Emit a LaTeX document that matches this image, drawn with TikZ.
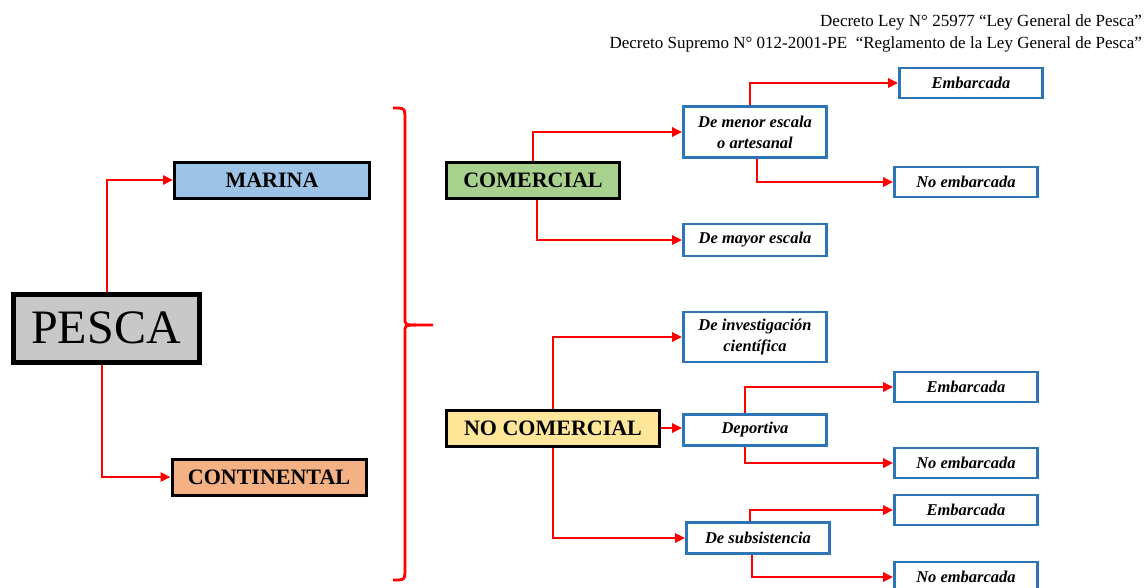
\documentclass[tikz,border=0pt]{standalone}
\usepackage{fontspec}
\setmainfont{Liberation Serif}
\usetikzlibrary{arrows.meta}
\definecolor{pgray}{HTML}{C8C8C8}
\definecolor{pblue}{HTML}{9DC3E6}
\definecolor{porange}{HTML}{F4B183}
\definecolor{pgreen}{HTML}{A9D18E}
\definecolor{pyellow}{HTML}{FFE699}
\definecolor{bborder}{HTML}{2E75B6}
\definecolor{cred}{HTML}{FF0000}
\tikzset{
  mainbox/.style={draw=black, line width=3pt, inner sep=0pt, minimum height=36pt,
    font=\fontsize{22}{24}\selectfont\bfseries},
  subbox/.style={draw=bborder, fill=white, line width=2.6pt, inner sep=0pt, minimum width=143pt,
    align=center, font=\fontsize{16.5}{21}\selectfont\bfseries\itshape},
  conn/.style={draw=cred, line width=2.8pt, -{Triangle[length=10pt,width=9pt]}},
}
\begin{document}
\begin{tikzpicture}[x=1pt,y=-1pt]
\useasboundingbox (0,0) rectangle (1145,587);
% header
\node[anchor=base east, inner sep=0pt, font=\fontsize{17}{20}\selectfont] (h1) at (1142,26) {Decreto Ley N° 25977 “Ley General de Pesca”};
\node[anchor=base east, inner sep=0pt, font=\fontsize{17}{20}\selectfont] (h2) at (1142,48) {Decreto Supremo N° 012-2001-PE \ “Reglamento de la Ley General de Pesca”};
% main nodes
\node[draw=black, fill=pgray, line width=5pt, inner sep=0pt, minimum width=186pt, minimum height=68pt,
  font=\fontsize{48}{52}\selectfont] (pesca) at (106,328) {PESCA};
\node[mainbox, fill=pblue, minimum width=195pt] (marina) at (272,180) {MARINA};
\node[mainbox, fill=porange, minimum width=194pt] (cont) at (269,477) {CONTINENTAL};
\node[mainbox, fill=pgreen, minimum width=173pt] (com) at (533,180) {COMERCIAL};
\node[mainbox, fill=pyellow, minimum width=213pt] (nocom) at (553,428) {NO COMERCIAL};
% sub nodes
\node[subbox, minimum height=51pt] (menor) at (755,132) {De menor escala\\o artesanal};
\node[subbox, minimum height=32pt] (mayor) at (755,240) {De mayor escala};
\node[subbox, minimum height=50pt] (inv) at (755,337) {De investigación\\científica};
\node[subbox, minimum height=31pt] (dep) at (755,430) {Deportiva};
\node[subbox, minimum height=31pt] (subs) at (758,538) {De subsistencia};
\node[subbox, minimum height=30pt] (emb1) at (971,83) {Embarcada};
\node[subbox, minimum height=30pt] (nemb1) at (966,182) {No embarcada};
\node[subbox, minimum height=30pt] (emb2) at (966,387) {Embarcada};
\node[subbox, minimum height=30pt] (nemb2) at (966,463) {No embarcada};
\node[subbox, minimum height=30pt] (emb3) at (966,510) {Embarcada};
\node[subbox, minimum height=30pt] (nemb3) at (966,577) {No embarcada};
% brace
\coordinate (btop) at (393,108);
\coordinate (bbot) at (393,580);
\coordinate (btip) at (433,325);
\draw[cred, line width=2.8pt] (btop) .. controls (405,108) .. (405,120) -- (405,318)
  .. controls (405,325) .. (416,325) -- (btip);
\draw[cred, line width=2.8pt] (416,325) .. controls (405,325) .. (405,332) -- (405,568)
  .. controls (405,580) .. (bbot);
% connectors
\draw[conn] ([xshift=1pt]pesca.north) |- (marina.west);
\draw[conn] ([xshift=-4pt]pesca.south) |- (cont.west);
\draw[conn] (com.north) |- (menor.west);
\draw[conn] ([xshift=4pt]com.south) |- (mayor.west);
\draw[conn] ([xshift=-5pt]menor.north) |- (emb1.west);
\draw[conn] ([xshift=2pt]menor.south) |- (nemb1.west);
\draw[conn] (nocom.north) |- (inv.west);
\draw[conn] (nocom.east) -- (nocom.east -| dep.west);
\draw[conn] (nocom.south) |- (subs.west);
\draw[conn] ([xshift=-10pt]dep.north) |- (emb2.west);
\draw[conn] ([xshift=-10pt]dep.south) |- (nemb2.west);
\draw[conn] ([xshift=-8pt]subs.north) |- (emb3.west);
\draw[conn] ([xshift=-6pt]subs.south) |- (nemb3.west);
\end{tikzpicture}
\end{document}
